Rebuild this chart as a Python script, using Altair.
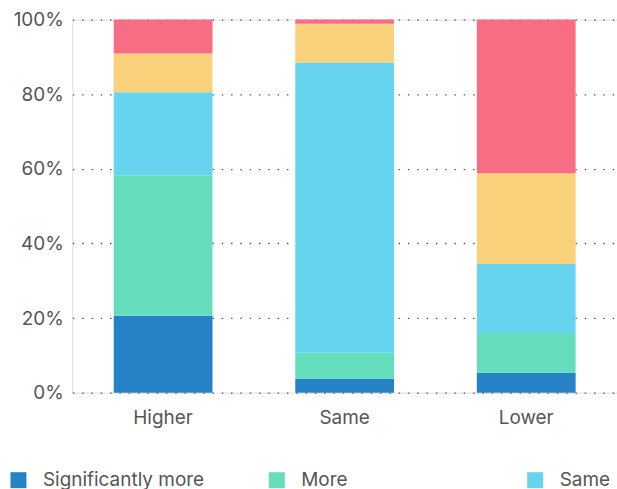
import altair as alt
import pandas as pd

groups = ["Higher", "Same", "Lower"]
responses = ["Significantly more", "More", "Same", "Less", "Significantly less"]
colors = ["#2482C5", "#64DDBC", "#66D3EF", "#FAD27B", "#F76E84"]

# share of respondents (%) per group, one list per response
significantly_more = [20.6, 3.7, 5.3]
more = [37.7, 7.0, 10.7]
same = [22.2, 77.8, 18.5]
less = [10.4, 10.4, 24.3]
significantly_less = [9.1, 1.1, 41.2]

series = [significantly_more, more, same, less, significantly_less]
rows = []
for order, (name, values) in enumerate(zip(responses, series)):
    for group, value in zip(groups, values):
        rows.append({"group": group, "response": name, "share": value, "order": order})
df = pd.DataFrame(rows)

FONT = "Inter"
TEXT = "#555555"

chart = (
    alt.Chart(df)
    .mark_bar()
    .encode(
        x=alt.X(
            "group:N",
            sort=groups,
            title=None,
            scale=alt.Scale(paddingInner=0.456, paddingOuter=0.228),
            axis=alt.Axis(
                labelAngle=0,
                domain=False,
                ticks=False,
                grid=False,
                labelPadding=16,
                labelFontSize=19,
                labelFont=FONT,
                labelColor=TEXT,
            ),
        ),
        y=alt.Y(
            "share:Q",
            stack="zero",
            title=None,
            scale=alt.Scale(domain=[0, 100], nice=False),
            axis=alt.Axis(
                values=[0, 20, 40, 60, 80, 100],
                labelExpr="datum.value + '%'",
                domain=False,
                ticks=False,
                labelPadding=9,
                labelFontSize=19,
                labelFont=FONT,
                labelColor=TEXT,
                grid=True,
                gridColor="#555555",
                gridWidth=1.3,
                gridDash=[1.5, 7.83],
            ),
        ),
        color=alt.Color(
            "response:N",
            sort=responses,
            scale=alt.Scale(domain=responses, range=colors),
            legend=alt.Legend(
                title=None,
                orient="none",
                legendX=-63.5,
                legendY=452,
                direction="horizontal",
                columns=3,
                gridAlign="all",
                columnPadding=63,
                rowPadding=40,
                symbolType="square",
                symbolSize=256,
                symbolStrokeWidth=0,
                symbolOpacity=1,
                labelOffset=15,
                labelFontSize=19,
                labelFont=FONT,
                labelColor=TEXT,
                labelLimit=400,
                padding=0,
            ),
        ),
        order=alt.Order("order:Q", sort="ascending"),
    )
    .properties(
        width=546,
        height=374,
        padding={"left": 72.5, "top": 19, "right": 0, "bottom": 96},
        autosize=alt.AutoSizeParams(type="none"),
    )
    .configure_view(stroke=None)
    .configure(background="white")
)

chart.save("out.html", embed_options={"renderer": "svg", "actions": False})
